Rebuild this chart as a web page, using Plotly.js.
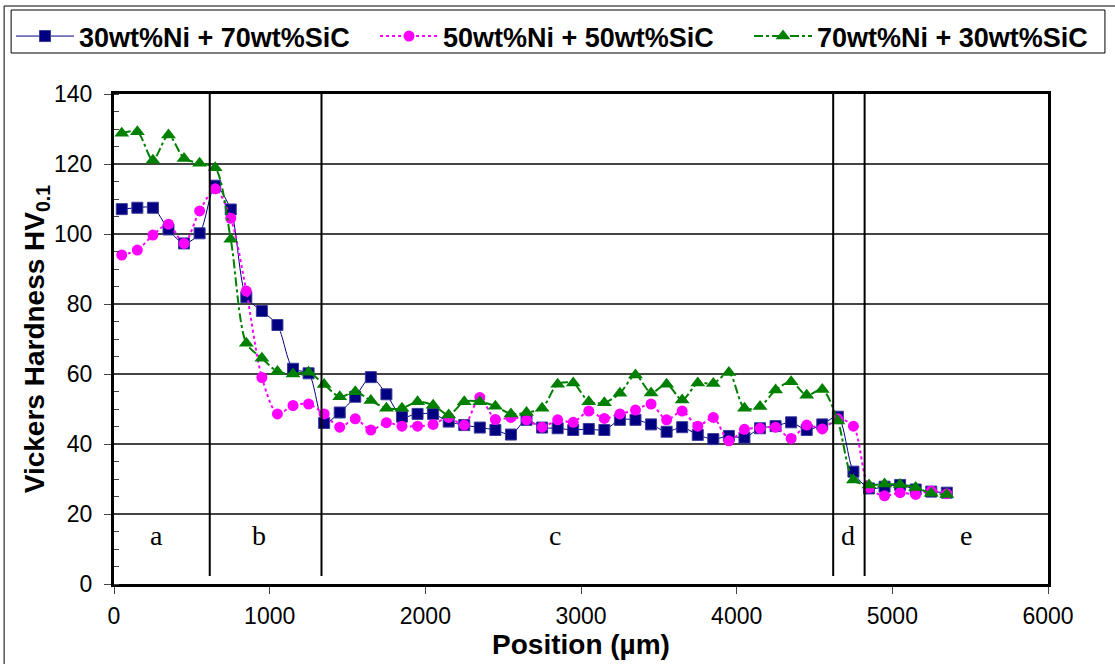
<!DOCTYPE html>
<html>
<head>
<meta charset="utf-8">
<script src="https://cdn.plot.ly/plotly-3.0.1.min.js"></script>
<style>
  html, body { margin: 0; padding: 0; background: #fff; }
  #chart { width: 1115px; height: 664px; }
</style>
</head>
<body>
<div id="chart"></div>
<script>
// Measurement positions (µm)
const positions = [50,150,250,350,450,550,650,750,850,950,1050,1150,1250,1350,1450,1550,1650,1750,1850,1950,
  2050,2150,2250,2350,2450,2550,2650,2750,2850,2950,3050,3150,3250,3350,3450,3550,3650,3750,3850,3950,
  4050,4150,4250,4350,4450,4550,4650,4750,4850,4950,5050,5150,5250,5350];

// Vickers hardness HV0.1
const ni30 = [107.1,107.5,107.5,101.3,97.3,100.2,113.8,107.0,82.0,78.0,74.0,61.5,60.2,46.0,49.0,53.5,59.1,54.2,47.8,48.6,
  48.6,46.4,45.4,44.7,44.0,42.7,46.9,44.7,44.5,44.0,44.3,44.0,46.9,46.9,45.6,43.5,44.8,42.6,41.4,42.3,
  41.8,44.5,45.1,46.2,44.0,45.6,47.8,32.1,27.3,27.8,28.3,27.0,26.4,26.1];
const ni50 = [94.0,95.4,99.7,102.8,97.3,106.6,112.9,104.5,83.7,59.0,48.6,51.0,51.4,48.6,44.8,47.2,44.0,46.1,45.1,45.1,
  45.6,47.6,45.4,53.3,47.0,47.6,46.9,44.8,46.9,46.2,49.4,47.3,48.6,49.7,51.4,46.9,49.4,45.1,47.6,40.9,
  44.2,44.5,44.8,41.6,45.4,44.3,47.2,45.1,27.5,25.2,26.1,25.6,26.6,25.8];
const ni70 = [128.8,129.2,121.1,128.3,121.6,120.2,118.9,98.5,68.8,64.5,60.7,60.0,60.5,57.0,53.5,54.9,52.4,50.2,50.2,52.1,
  51.1,48.3,52.1,52.1,50.8,48.6,49.0,50.2,57.1,57.4,52.1,51.8,54.5,59.7,54.6,57.1,52.6,57.4,57.3,60.4,
  50.2,50.7,55.4,57.8,53.9,55.6,46.6,29.7,28.3,28.6,28.4,27.6,25.9,25.6];

const seriesNames = ['30wt%Ni + 70wt%SiC', '50wt%Ni + 50wt%SiC', '70wt%Ni + 30wt%SiC'];

// Zone boundaries and labels
const zoneBounds = [615, 1333, 4620, 4822];
const zoneLabels = ['a', 'b', 'c', 'd', 'e'];
const zoneLabelX = [270, 930, 2830, 4712, 5474];

const xTicks = [0, 1000, 2000, 3000, 4000, 5000, 6000];
const yTicks = [0, 20, 40, 60, 80, 100, 120, 140];

const sans = 'Arial, "Liberation Sans", sans-serif';
const serif = '"Times New Roman", "Liberation Serif", serif';

const traces = [
  {
    x: positions, y: ni30, name: '<b>' + seriesNames[0] + '</b>', type: 'scatter', mode: 'lines+markers',
    legend: 'legend',
    line: { color: '#000080', width: 1, shape: 'spline', smoothing: 0.8 },
    marker: { symbol: 'square', size: 11, color: '#000080', line: { color: '#3a3a9a', width: 1 } }
  },
  {
    x: positions, y: ni50, name: '<b>' + seriesNames[1] + '</b>', type: 'scatter', mode: 'lines+markers',
    legend: 'legend2',
    line: { color: '#FF00FF', width: 2, dash: 'dot', shape: 'spline', smoothing: 0.8 },
    marker: { symbol: 'circle', size: 11, color: '#FF00FF' }
  },
  {
    x: positions, y: ni70, name: '<b>' + seriesNames[2] + '</b>', type: 'scatter', mode: 'lines+markers',
    legend: 'legend3',
    line: { color: '#008000', width: 2, dash: 'dashdot', shape: 'spline', smoothing: 0.8 },
    marker: { symbol: 'triangle-up', size: 13, color: '#008000' }
  }
];

const L = 113, R = 1048, T = 94, B = 584;
const px = v => (v - L) / (R - L);
const py = v => (B - v) / (B - T);

const shapes = zoneBounds.map(b => ({
  type: 'line', xref: 'x', yref: 'y', x0: b, x1: b, y0: 2.3, y1: 140,
  line: { color: 'black', width: 2 }, layer: 'above'
}));
// outer frame of the figure
shapes.push({
  type: 'rect', xref: 'paper', yref: 'paper',
  x0: px(3), x1: px(1125), y0: py(6), y1: py(674),
  line: { color: 'black', width: 1 }, fillcolor: 'rgba(0,0,0,0)', layer: 'below'
});
// legend box
shapes.push({
  type: 'rect', xref: 'paper', yref: 'paper',
  x0: px(10), x1: px(1105), y0: py(10), y1: py(53),
  line: { color: 'black', width: 1 }, fillcolor: 'white', layer: 'below'
});

const annotations = zoneLabels.map((t, i) => ({
  x: zoneLabelX[i], y: 14, xref: 'x', yref: 'y', text: t, showarrow: false,
  font: { family: serif, size: 28, color: 'black' }, xanchor: 'center', yanchor: 'middle'
}));

function legendAt(left) {
  return {
    orientation: 'h', x: px(left), y: py(12), xanchor: 'left', yanchor: 'top',
    bgcolor: 'rgba(0,0,0,0)', borderwidth: 0, itemwidth: 58,
    font: { family: sans, size: 27, color: 'black' }
  };
}

const layout = {
  width: 1115, height: 664,
  margin: { l: L, r: 1115 - R, t: T, b: 664 - B },
  paper_bgcolor: 'white', plot_bgcolor: 'white',
  font: { family: sans, color: 'black', size: 23 },
  showlegend: true,
  legend: legendAt(11),
  legend2: legendAt(375),
  legend3: legendAt(749),
  xaxis: {
    range: [0, 6000], tickvals: xTicks, ticktext: xTicks.map(String),
    ticks: 'outside', ticklen: 7, tickwidth: 1, tickcolor: '#444', ticklabelstandoff: 2,
    showline: true, linecolor: 'black', linewidth: 3, mirror: true,
    showgrid: false, zeroline: false,
    tickfont: { family: sans, size: 23, color: 'black' },
    title: { text: '<b>Position (µm)</b>', font: { family: sans, size: 28, color: 'black' }, standoff: 7 },
    automargin: false
  },
  yaxis: {
    range: [0, 140], tickvals: yTicks, ticktext: yTicks.map(String),
    ticks: 'outside', ticklen: 7, tickwidth: 1, tickcolor: '#444', ticklabelstandoff: 7,
    minor: { dtick: 5, tick0: 0, ticks: 'inside', ticklen: 5, tickwidth: 1, tickcolor: '#444', showgrid: false },
    showline: true, linecolor: 'black', linewidth: 3, mirror: true,
    showgrid: true, gridcolor: '#444', gridwidth: 1.2, zeroline: false,
    tickfont: { family: sans, size: 23, color: 'black' },
    title: { text: '<b>Vickers Hardness HV<sub>0.1</sub></b>', font: { family: sans, size: 28, color: 'black' }, standoff: 0 },
    automargin: false
  },
  shapes: shapes,
  annotations: annotations
};

Plotly.newPlot('chart', traces, layout, { staticPlot: true, displayModeBar: false });
</script>
</body>
</html>
